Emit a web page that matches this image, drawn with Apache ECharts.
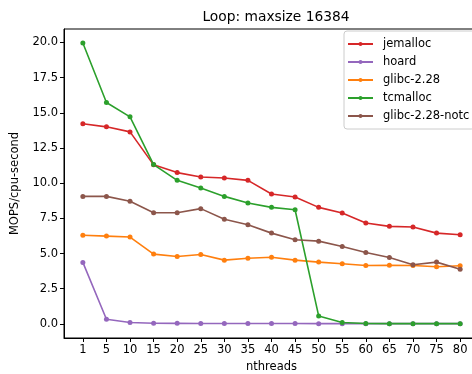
<!DOCTYPE html>
<html>
<head>
<meta charset="utf-8">
<script src="https://cdn.jsdelivr.net/npm/echarts@6/dist/echarts.min.js"></script>
<style>
  html, body { margin: 0; padding: 0; background: #fff; }
  #chart { width: 472px; height: 374px; }
</style>
</head>
<body>
<div id="chart"></div>
<script>
// x categories (thread counts)
const threads = ['1', '5', '10', '15', '20', '25', '30', '35', '40', '45', '50', '55', '60', '65', '70', '75', '80']
const yTicks = [0, 2.5, 5, 7.5, 10, 12.5, 15, 17.5, 20]

// values
const jemalloc = [14.22, 14.0, 13.64, 11.3, 10.75, 10.44, 10.37, 10.2, 9.23, 9.02, 8.28, 7.88, 7.17, 6.93, 6.88, 6.45, 6.33]
const hoard = [4.37, 0.33, 0.1, 0.05, 0.04, 0.03, 0.03, 0.03, 0.03, 0.03, 0.02, 0.02, 0.02, 0.02, 0.02, 0.02, 0.02]
const glibc = [6.3, 6.24, 6.17, 4.96, 4.79, 4.93, 4.53, 4.67, 4.74, 4.53, 4.39, 4.27, 4.15, 4.17, 4.15, 4.06, 4.13]
const tcmalloc = [19.95, 15.73, 14.71, 11.32, 10.2, 9.65, 9.06, 8.59, 8.28, 8.11, 0.57, 0.1, 0.03, 0.02, 0.02, 0.02, 0.02]
const glibcNotc = [9.06, 9.06, 8.71, 7.9, 7.9, 8.19, 7.44, 7.05, 6.45, 5.98, 5.88, 5.5, 5.08, 4.72, 4.2, 4.39, 3.89]

const names = ['jemalloc', 'hoard', 'glibc-2.28', 'tcmalloc', 'glibc-2.28-notc']
const colors = ['#d62728', '#9467bd', '#ff7f0e', '#2ca02c', '#8c564b']
const allData = [jemalloc, hoard, glibc, tcmalloc, glibcNotc]

const idx = threads.map((t, i) => i)

let myChart = echarts.init(document.getElementById('chart'))

let series = names.map((n, k) => ({
  name: n,
  type: 'line',
  data: allData[k].map((v, i) => [i, v]),
  symbol: 'circle',
  symbolSize: 5,
  showSymbol: true,
  lineStyle: { width: 1.6, color: colors[k] },
  itemStyle: { color: colors[k] },
  emphasis: { disabled: true },
  animation: false
}))

let option = {
  backgroundColor: '#fff',
  textStyle: { fontFamily: 'DejaVu Sans' },
  title: {
    text: 'Loop: maxsize 16384',
    left: 271,
    textAlign: 'center',
    top: 5,
    textStyle: { fontSize: 13.8, fontWeight: 'normal', color: '#000', fontFamily: 'DejaVu Sans' }
  },
  legend: {
    orient: 'vertical',
    left: 344,
    top: 31,
    data: names,
    itemWidth: 25,
    itemHeight: 5,
    itemGap: 6,
    padding: [7, 5, 7, 3],
    borderColor: '#ccc',
    borderWidth: 1,
    borderRadius: 3,
    backgroundColor: 'rgba(255,255,255,0.8)',
    textStyle: { fontSize: 11.5, color: '#000', fontFamily: 'DejaVu Sans', padding: [0, 0, 0, 5] }
  },
  grid: {
    left: 64,
    width: 415,
    top: 29,
    height: 309,
    show: true,
    borderColor: '#000',
    borderWidth: 1,
    outerBoundsMode: 'none',
    containLabel: false
  },
  xAxis: {
    type: 'value',
    min: -0.8,
    max: 16.8,
    name: 'nthreads',
    nameLocation: 'middle',
    nameGap: 22,
    nameTextStyle: { fontSize: 11.5, color: '#000' },
    splitLine: { show: false },
    axisLine: { show: true, onZero: false, lineStyle: { color: '#000' } },
    axisTick: { show: true, length: 4, customValues: idx, lineStyle: { color: '#000' } },
    axisLabel: {
      customValues: idx,
      fontSize: 11.5,
      color: '#000',
      margin: 6,
      formatter: v => threads[Math.round(v)]
    }
  },
  yAxis: {
    type: 'value',
    min: -1.0,
    max: 20.95,
    name: 'MOPS/cpu-second',
    nameLocation: 'middle',
    nameGap: 39,
    nameTextStyle: { fontSize: 11.5, color: '#000' },
    splitLine: { show: false },
    axisLine: { show: true, onZero: false, lineStyle: { color: '#000' } },
    axisTick: { show: true, length: 4, customValues: yTicks, lineStyle: { color: '#000' } },
    axisLabel: {
      customValues: yTicks,
      fontSize: 11.5,
      color: '#000',
      margin: 6,
      formatter: v => v.toFixed(1)
    }
  },
  series: series
}

myChart.setOption(option)
</script>
</body>
</html>
